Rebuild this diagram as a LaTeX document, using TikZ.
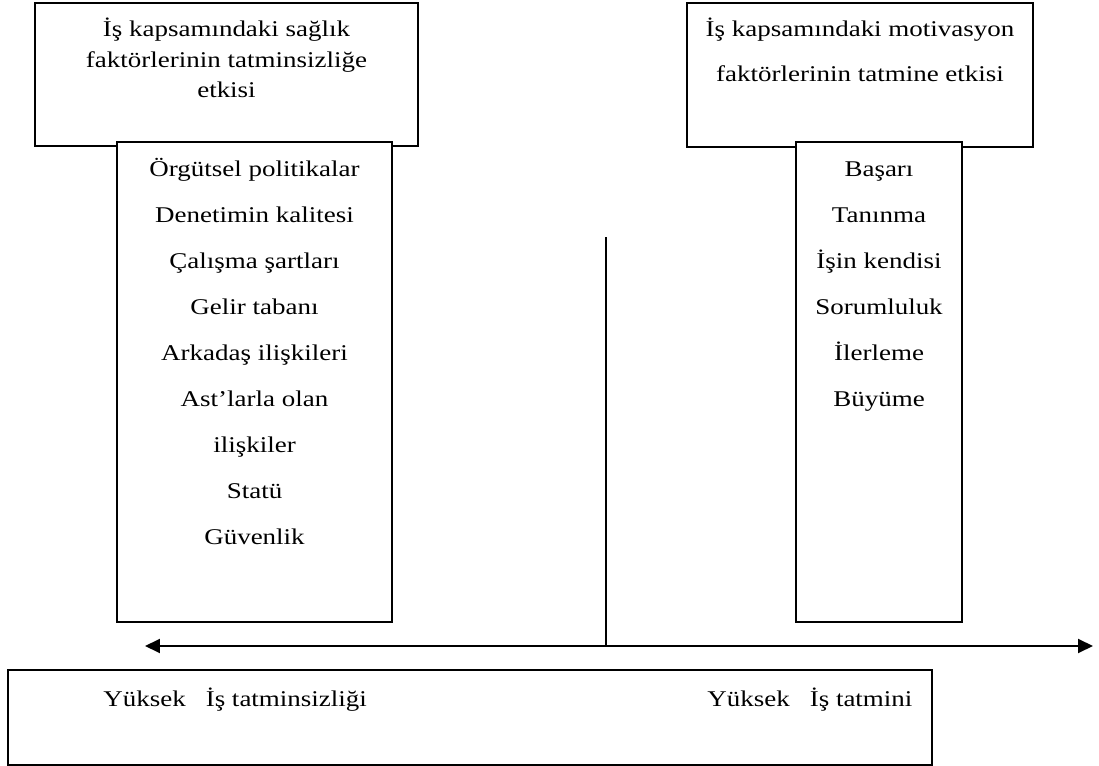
\documentclass[tikz,border=0pt]{standalone}
\usepackage{fontspec}
\setmainfont{Liberation Serif}[FakeStretch=1.2]
\usetikzlibrary{arrows.meta}
\begin{document}
\begin{tikzpicture}[x=0.02cm, y=-0.02cm,
  kutu/.style={draw, line width=0.8pt, fill=white, inner sep=0pt},
  yazi/.style={anchor=base, inner sep=0pt, font=\fontsize{12.8}{15}\selectfont},
  ucok/.style={line width=1.1pt, {Triangle[length=0.3cm,width=0.28cm]}-{Triangle[length=0.3cm,width=0.28cm]}}]
\useasboundingbox (0,0) rectangle (1099,766);
\node[kutu, minimum width=7.66cm, minimum height=2.86cm] (saglik) at (226.5,74.5) {};
\node[kutu, minimum width=6.92cm, minimum height=2.88cm] (motiv) at (860,75) {};
\node[kutu, minimum width=5.5cm, minimum height=9.6cm] (hijyen) at (254.5,382) {};
\node[kutu, minimum width=3.32cm, minimum height=9.6cm] (motivlist) at (879,382) {};
\node[kutu, minimum width=18.48cm, minimum height=1.9cm] (alt) at (470,717.5) {};
\node[yazi] (s1) at (226.5,37) {İş kapsamındaki sağlık};
\node[yazi] (s2) at (226.5,68) {faktörlerinin tatminsizliğe};
\node[yazi] (s3) at (226.5,98) {etkisi};
\node[yazi] (m1) at (860,37) {İş kapsamındaki motivasyon};
\node[yazi] (m2) at (860,82) {faktörlerinin tatmine etkisi};
\foreach \t [count=\i from 0] in {Örgütsel politikalar,Denetimin kalitesi,Çalışma şartları,Gelir tabanı,Arkadaş ilişkileri,Ast’larla olan,ilişkiler,Statü,Güvenlik}
  \node[yazi] (h\i) at (254.5,{177+46*\i}) {\t};
\foreach \t [count=\i from 0] in {Başarı,Tanınma,İşin kendisi,Sorumluluk,İlerleme,Büyüme}
  \node[yazi] (g\i) at (879,{177+46*\i}) {\t};
\node[yazi, anchor=base west] (dusuk) at (103,706) {Yüksek\hspace{0.4cm}İş tatminsizliği};
\node[yazi, anchor=base west] (yuksek) at (707,706) {Yüksek\hspace{0.4cm}İş tatmini};
\coordinate (sol) at (145,646);
\coordinate (sag) at (1093,646);
\coordinate (orta) at (606,646);
\coordinate (ust) at (606,237);
\draw[ucok] (sol) -- (sag);
\draw[line width=0.7pt] (orta) -- (ust);
\end{tikzpicture}
\end{document}
